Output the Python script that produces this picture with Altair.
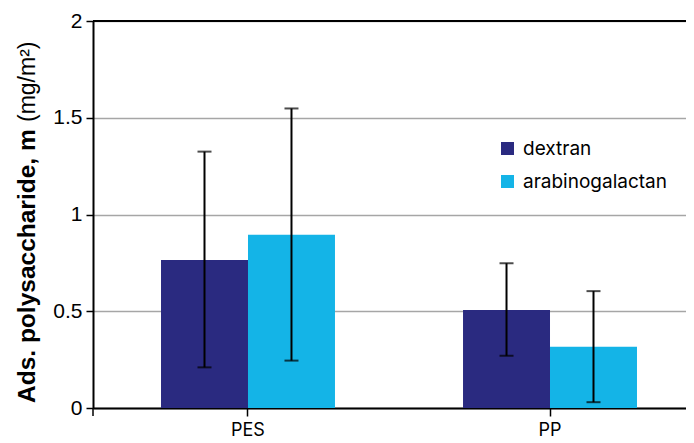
import altair as alt
import pandas as pd

categories = ["PES", "PES", "PP", "PP"]
series = ["dextran", "arabinogalactan", "dextran", "arabinogalactan"]
values = [0.765, 0.895, 0.507, 0.316]
err_low = [0.21, 0.245, 0.27, 0.03]
err_high = [1.325, 1.548, 0.748, 0.604]
series_order = ["dextran", "arabinogalactan"]
series_colors = ["#2a2a80", "#14b4e7"]
y_ticks = [0, 0.5, 1, 1.5, 2]
title_bold = "Ads. polysaccharide, m"
title_unit = "(mg/m²)"

df = pd.DataFrame({
    "category": categories,
    "series": series,
    "value": values,
    "low": err_low,
    "high": err_high,
})

W, H = 593, 387
XR = 612  # band range, extends past the visible right edge (cropped like the reference)

x_enc = alt.X(
    "category:N",
    title=None,
    scale=alt.Scale(paddingInner=0, paddingOuter=0.0132, range=[0, XR]),
    axis=alt.Axis(labelAngle=0, labelFont="Inter", labelFontSize=18,
                  labelColor="black", tickSize=8, labelPadding=5,
                  domainColor="black", domainWidth=2, tickColor="black",
                  tickWidth=1.5, grid=False),
)
xoff = alt.XOffset("series:N", scale=alt.Scale(domain=series_order,
                                                paddingOuter=0.736, paddingInner=0))
y_scale = alt.Scale(domain=[0, 2], nice=False)

base = alt.Chart(df)

bars = base.mark_bar().encode(
    x=x_enc,
    xOffset=xoff,
    y=alt.Y("value:Q", scale=y_scale, title=None,
            axis=alt.Axis(values=y_ticks, format="~g", labelFont="Liberation Sans",
                          labelFontSize=21, labelColor="black", tickSize=7,
                          labelPadding=4, domainColor="black", domainWidth=2,
                          tickColor="black", tickWidth=1.5, grid=True,
                          gridColor="#a6a6a6", gridWidth=1.5)),
    color=alt.Color("series:N", scale=alt.Scale(domain=series_order, range=series_colors),
                    legend=alt.Legend(title=None, orient="none", legendX=405, legendY=118,
                                      symbolType="square", symbolSize=169,
                                      symbolStrokeWidth=0, labelFont="Inter",
                                      labelFontSize=19, labelColor="black",
                                      labelOffset=6, rowPadding=13, padding=0)),
)

rules = base.mark_rule(color="black", strokeWidth=2).encode(
    x=x_enc, xOffset=xoff,
    y=alt.Y("low:Q", scale=y_scale), y2="high:Q",
)
ticks_lo = base.mark_tick(color="black", thickness=2, size=14).encode(
    x=x_enc, xOffset=xoff, y=alt.Y("low:Q", scale=y_scale),
)
ticks_hi = base.mark_tick(color="black", thickness=2, size=14).encode(
    x=x_enc, xOffset=xoff, y=alt.Y("high:Q", scale=y_scale),
)

t1 = alt.Chart(pd.DataFrame({"t": [title_bold]})).mark_text(
    angle=270, align="left", baseline="alphabetic", font="Liberation Sans",
    fontSize=24.5, fontWeight="bold", color="black",
).encode(x=alt.value(-58), y=alt.value(382), text="t:N")

t2 = alt.Chart(pd.DataFrame({"t": [title_unit]})).mark_text(
    angle=270, align="left", baseline="alphabetic", font="Liberation Sans",
    fontSize=23, color="black",
).encode(x=alt.value(-58), y=alt.value(101), text="t:N")

ext = alt.Chart(pd.DataFrame({"t": [0]})).mark_rule(color="black", strokeWidth=1.5).encode(
    x=alt.value(0), y=alt.value(H), y2=alt.value(H + 8)
)

top_line = alt.Chart(pd.DataFrame({"t": [0]})).mark_rule(color="black", strokeWidth=2).encode(
    x=alt.value(0), x2=alt.value(W + 10), y=alt.value(0)
)

chart = alt.layer(bars, rules, ticks_lo, ticks_hi, t1, t2, ext, top_line).properties(
    width=W, height=H,
    autosize=alt.AutoSizeParams(type="none"),
    padding={"left": 85, "top": 13, "right": 0, "bottom": 31},
).configure_view(stroke=None).configure(background="white")

chart.save("out.html", embed_options={"renderer": "svg", "actions": False})
